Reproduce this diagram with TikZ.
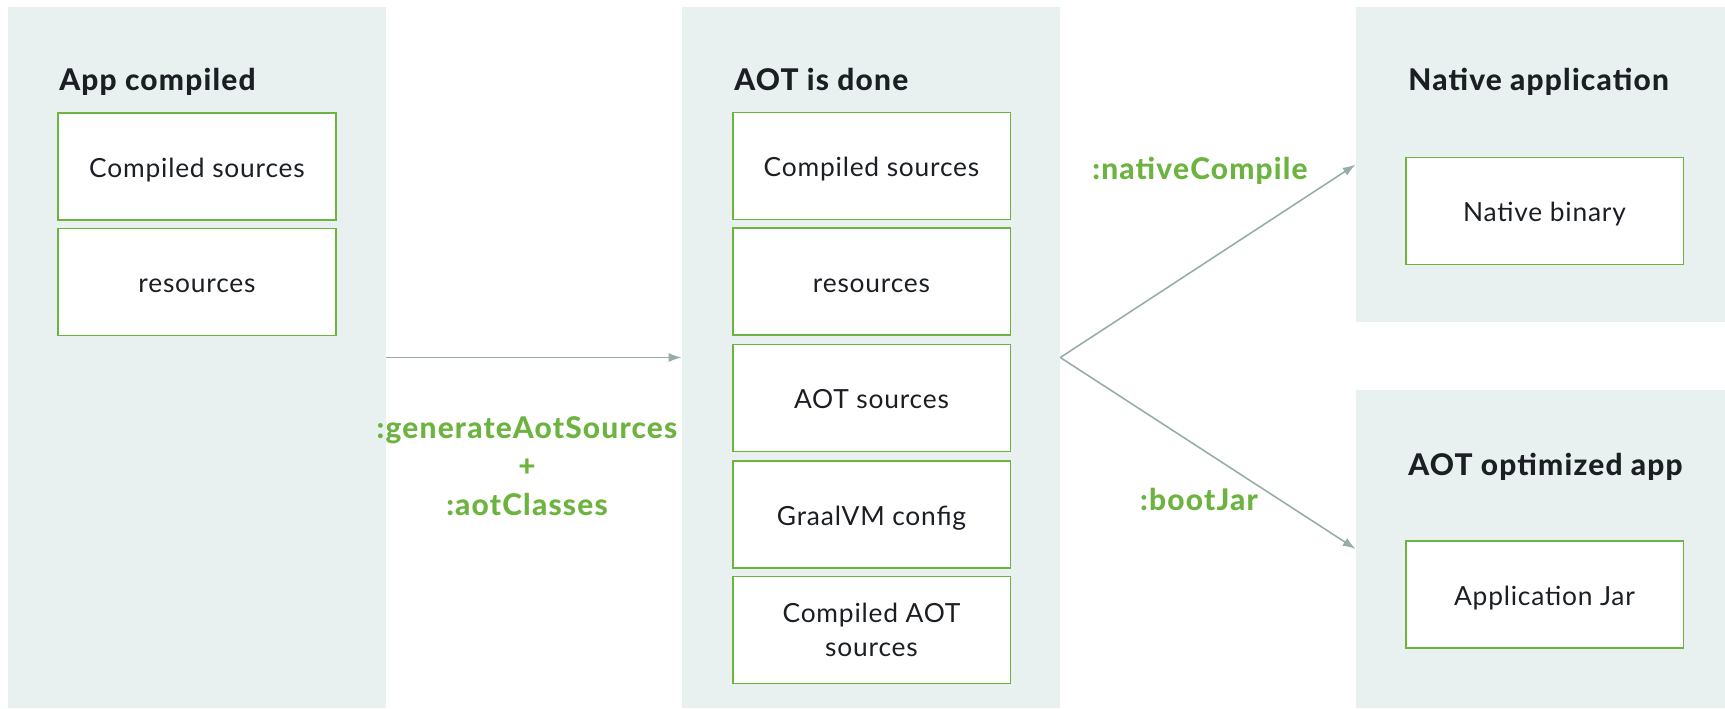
\documentclass[tikz,border=0pt]{standalone}
\usepackage{fontspec}
\setmainfont{Lato}[BoldFont={Lato Heavy}]
\usetikzlibrary{arrows.meta}
\definecolor{panelgray}{RGB}{232,241,240}
\definecolor{springgreen}{RGB}{109,179,63}
\definecolor{flowgray}{RGB}{152,172,170}
\definecolor{inkblack}{RGB}{27,31,35}

\tikzset{
  panel/.style={fill=panelgray, inner sep=0pt},
  filebox/.style={draw=springgreen, line width=1.1pt, fill=white, text=inkblack,
    minimum width=5.56cm, minimum height=2.14cm, align=center, inner sep=0pt,
    text height=12.2pt, text depth=0pt,
    font=\fontsize{15}{19.5}\selectfont\addfontfeatures{LetterSpace=3}},
  twolines/.style={text height={}, text depth={}},
  paneltitle/.style={anchor=base west, text=inkblack, inner sep=0pt,
    font=\fontsize{17}{20}\selectfont\bfseries\addfontfeatures{LetterSpace=4}},
  tasklabel/.style={text=springgreen, align=center, inner sep=0pt,
    font=\fontsize{17}{22}\selectfont\bfseries\addfontfeatures{LetterSpace=4}},
  flow/.style={draw=flowgray, line width=0.9pt, -{Latex[length=0.26cm, width=0.18cm]}}
}

\begin{document}
\begin{tikzpicture}[x=0.02cm, y=-0.02cm]
\useasboundingbox (0,0) rectangle (1725,708);

% Stage panels
\node[panel, minimum width=7.56cm, minimum height=14.02cm] (compiled) at (197,357.5) {};
\node[panel, minimum width=7.56cm, minimum height=14.02cm] (aot) at (871,357.5) {};
\node[panel, minimum width=7.38cm, minimum height=6.3cm] (native) at (1540.5,164.5) {};
\node[panel, minimum width=7.38cm, minimum height=6.36cm] (optimized) at (1540.5,549) {};

% App compiled
\node[paneltitle] (t1) at (59,90) {App compiled};
\node[filebox] (c1) at (197,166.5) {Compiled sources};
\node[filebox] (c2) at (197,282) {resources};

% AOT is done
\node[paneltitle] (t2) at (734,90) {AOT is done};
\node[filebox] (a1) at (871.5,166) {Compiled sources};
\node[filebox] (a2) at (871.5,281.5) {resources};
\node[filebox] (a3) at (871.5,398) {AOT sources};
\node[filebox] (a4) at (871.5,514.5) {GraalVM config};
\node[filebox, twolines] (a5) at (871.5,630) {Compiled AOT\\sources};

% Native application
\node[paneltitle] (t3) at (1408,90) {Native application};
\node[filebox] (n1) at (1544.5,211) {Native binary};

% AOT optimized app
\node[paneltitle] (t4) at (1408,475) {AOT optimized app};
\node[filebox] (o1) at (1544.5,594.5) {Application Jar};

% Gradle tasks
\draw[flow] (compiled.east) -- (aot.west);
\draw[flow] (aot.east) -- (native.west);
\draw[flow] (aot.east) -- (optimized.west);

\node[tasklabel] (gen) at (527,466) {:generateAotSources\\+\\:aotClasses};
\node[tasklabel] (nc) at (1200,171) {:nativeCompile};
\node[tasklabel] (bj) at (1199,499) {:bootJar};
\end{tikzpicture}
\end{document}
